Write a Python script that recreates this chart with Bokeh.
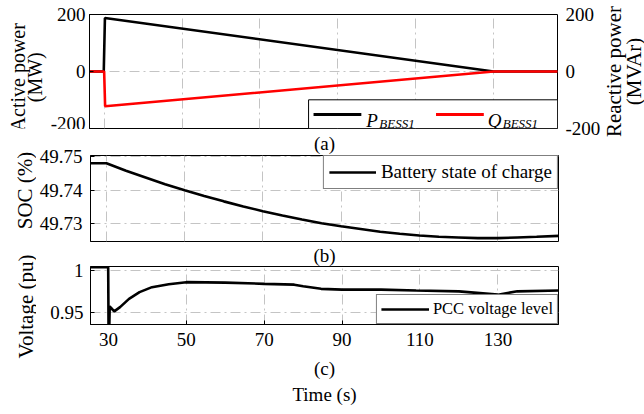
import numpy as np
from bokeh.plotting import figure
from bokeh.models import (Range1d, FixedTicker, Legend, LegendItem, Title)
from bokeh.core.properties import value
from bokeh.layouts import column, row
from bokeh.embed import file_html
from bokeh.resources import INLINE

FONT = "Liberation Serif"
GRID_COLOR = "#c4c4c4"
GRID_DASH = "10 4 2 4"
TICK_SIZE = "19px"
LABEL_SIZE = "21px"

# ---------------- data ----------------
x_ticks = [30, 50, 70, 90, 110, 130]

# (a) active / reactive power of BESS1
t_p = [26.0, 29.9, 30.2, 130.0, 146.5]
p_bess = [0, 0, 188, 0, 0]
t_q = [26.0, 30.0, 30.25, 130.0, 146.5]
q_bess = [0, 0, -122, 0, 0]
a_ticks = [-200, 0, 200]
a_tick_labels = ["-200", "0", "200"]

# (b) battery state of charge
t_soc = [25.5, 30, 35, 40, 45, 50, 55, 60, 65, 70, 75, 80, 85, 90, 95, 100,
         105, 110, 115, 120, 125, 130, 135, 140, 146.5]
soc = [49.748, 49.748, 49.7458, 49.7438, 49.7418, 49.7400, 49.7383, 49.7367,
       49.7352, 49.7338, 49.7325, 49.7313, 49.7302, 49.7293, 49.7285, 49.7277,
       49.7271, 49.7266, 49.7262, 49.7260, 49.7258, 49.7258, 49.7260, 49.7262,
       49.7265]
b_ticks = [49.73, 49.74, 49.75]

# (c) PCC voltage
t_v = [25.5, 29.95, 30.05, 30.2, 30.35, 30.7, 31.5, 33, 35.3, 38, 41.2, 45.5,
       50, 60, 70, 77.7, 80, 84.6, 90, 100, 109, 120, 130, 135, 146.5]
v_pcc = [1.004, 1.004, 0.925, 0.925, 0.957, 0.955, 0.951, 0.956, 0.966, 0.974,
         0.980, 0.9835, 0.986, 0.9855, 0.984, 0.983, 0.981, 0.978, 0.977, 0.977,
         0.976, 0.975, 0.971, 0.975, 0.976]
c_ticks = [0.95, 1]


def style_axis(ax):
    ax.major_label_text_font = FONT
    ax.major_label_text_font_size = TICK_SIZE
    ax.major_label_text_color = "black"
    ax.axis_label_text_font = FONT
    ax.axis_label_text_font_size = LABEL_SIZE
    ax.axis_label_text_font_style = "normal"
    ax.axis_label_text_color = "black"
    ax.axis_label_standoff = 0
    ax.axis_line_color = "black"
    ax.major_tick_in = 4
    ax.major_tick_out = 0
    ax.minor_tick_in = 0
    ax.minor_tick_out = 0
    ax.major_tick_line_color = "black"


def style_title(t, text, standoff):
    t.text = text
    t.align = "center"
    t.text_font = FONT
    t.text_font_size = "19px"
    t.text_font_style = "normal"
    t.text_color = "black"
    t.standoff = standoff


def make_fig(xr, yr, fw, fh, bl, br, bt, bb, yt):
    # explicit outer size: borders are the min_borders, frame is the rest
    p = figure(width=bl + fw + br, height=bt + fh + bb,
               min_border_left=bl, min_border_right=br,
               min_border_top=bt, min_border_bottom=bb,
               x_range=Range1d(*xr), y_range=Range1d(*yr),
               output_backend="svg", toolbar_location=None)
    p.outline_line_color = "black"
    p.outline_line_alpha = 1
    p.outline_line_width = 1
    xt = FixedTicker(ticks=x_ticks)
    ytk = FixedTicker(ticks=yt)
    p.xaxis.ticker = xt
    p.yaxis.ticker = ytk
    p.xgrid.ticker = xt
    p.ygrid.ticker = ytk
    for g in (p.xgrid, p.ygrid):
        g.grid_line_color = GRID_COLOR
        g.grid_line_dash = GRID_DASH
        g.grid_line_width = 1
    style_axis(p.xaxis[0])
    style_axis(p.yaxis[0])
    return p


def text_strip(w, h, yr):
    """A blank figure whose frame is the whole canvas, for side texts."""
    s = figure(width=w, height=h, x_range=Range1d(0, w), y_range=Range1d(*yr),
               min_border=0, x_axis_type=None, y_axis_type=None,
               output_backend="svg", toolbar_location=None)
    s.outline_line_color = None
    s.grid.visible = False
    s.border_fill_color = "white"
    return s


def vtext(fig, xs, ys, texts, size=LABEL_SIZE):
    fig.text(x=xs, y=ys, text=texts, angle=np.pi / 2, text_font=value(FONT),
             text_font_size=size, text_color="black", text_align="center",
             text_baseline="middle")


# ---------------- panel (a) ----------------
A_TOP, A_FRAME, A_BOT = 14, 114, 1
pa = make_fig((26.24, 146.4), (-200, 200), 470, A_FRAME, 40, 2, A_TOP, A_BOT,
              a_ticks)
pa.xaxis.visible = False
pa.yaxis.major_label_standoff = 4
pa.yaxis.major_label_overrides = {-200: "-200"}

pa.extra_y_ranges = {"ly": Range1d(0, A_FRAME)}
pa.extra_x_ranges = {"lx": Range1d(0, 470)}
pa.line(t_p, p_bess, line_color="black", line_width=2.6)
pa.line(t_q, q_bess, line_color="#ff0000", line_width=2.6)

# custom legend for (a) (pixel coordinates inside the frame)
pa.quad(left=[220], right=[470], bottom=[0], top=[28.7], fill_color="white",
        line_color="black", line_width=1, x_range_name="lx", y_range_name="ly")
pa.segment(x0=[225], x1=[273], y0=[14], y1=[14], line_color="black",
           line_width=3, x_range_name="lx", y_range_name="ly")
pa.segment(x0=[348], x1=[396], y0=[14], y1=[14], line_color="#ff0000",
           line_width=3, x_range_name="lx", y_range_name="ly")
pa.text(x=[278, 400], y=[8.5, 8.5], text=["P", "Q"], text_font=value(FONT),
        text_font_size="19px", text_font_style="italic", text_color="black",
        text_baseline="alphabetic", x_range_name="lx", y_range_name="ly")
pa.text(x=[291, 415], y=[5, 5], text=["BESS1", "BESS1"],
        text_font=value(FONT), text_font_size="13px", text_font_style="italic",
        text_color="black", text_baseline="alphabetic",
        x_range_name="lx", y_range_name="ly")

A_H = A_TOP + A_FRAME + A_BOT
side_a = text_strip(47, A_H, (A_H, 0))
vtext(side_a, [17, 34], [71, 71], ["Active power", "(MW)"], size="20px")

# ---------------- panel (b) ----------------
pb = make_fig((25.92, 145.6), (49.7248, 49.7503), 468, 86, 54, 1, 26, 1, b_ticks)
style_title(pb.title, "(a)", 3)
pb.xaxis.visible = False
pb.yaxis.major_label_standoff = 8
rb = pb.line(t_soc, soc, line_color="black", line_width=2.6)
lb = Legend(items=[LegendItem(label="Battery state of charge", renderers=[rb])],
            location="top_right", margin=0, padding=5, spacing=0,
            glyph_width=47, glyph_height=20, label_height=20,
            label_standoff=5, label_text_font=FONT,
            label_text_font_size="19px", label_text_color="black",
            border_line_color="black", border_line_width=1,
            background_fill_alpha=1)
pb.add_layout(lb)

# ---------------- panel (c) ----------------
pc = make_fig((25.41, 145.56), (0.9352, 1.0048), 471, 58, 51, 1, 24, 90, c_ticks)
style_title(pc.title, "(b)", 1)
pc.xaxis.major_label_standoff = 8
pc.xaxis.axis_label = "(c)"
pc.xaxis.axis_label_text_font_size = "19px"
pc.xaxis.axis_label_standoff = 9
pc.yaxis.major_label_standoff = 7
pc.yaxis.major_label_overrides = {1: "1"}
rc = pc.line(t_v, v_pcc, line_color="black", line_width=2.6)
lc = Legend(items=[LegendItem(label="PCC voltage level", renderers=[rc])],
            location="bottom_right", margin=0, padding=4, spacing=0,
            glyph_width=48, glyph_height=18, label_height=18,
            label_standoff=4, label_text_font=FONT,
            label_text_font_size="16.5px", label_text_color="black",
            border_line_color="black", border_line_width=1,
            background_fill_alpha=1)
pc.add_layout(lc)
pc.add_layout(Title(text="", align="center"), "below")
style_title(pc.below[-1], "Time (s)", 0)

# left-hand labels of (b) and (c), read bottom-to-top (y measured from top)
BC_H = 113 + 172
side_bc = text_strip(36, BC_H, (BC_H, 0))
vtext(side_bc, [24, 25], [61, 177], ["SOC (%)", "Voltage (pu)"])

# right-hand axis of (a): same scale as the left axis, tick labels + title
R_W, R_H = 85, 414
upp = 400 / A_FRAME                      # MW per pixel in panel (a)
side_r = text_strip(R_W, R_H, (200 - (R_H - A_TOP) * upp, 200 + A_TOP * upp))
side_r.text(x=[6] * len(a_ticks), y=a_ticks, text=a_tick_labels,
            text_font=value(FONT), text_font_size=TICK_SIZE, text_color="black",
            text_align="left", text_baseline="middle")
vtext(side_r, [54, 74], [0, 0], ["Reactive power", "(MVAr)"])

left_col = column(row(side_a, pa, spacing=0),
                  row(side_bc, column(pb, pc, spacing=0), spacing=0),
                  spacing=0)
layout = row(left_col, side_r, spacing=0)
open("out.html", "w").write(file_html(layout, INLINE))
